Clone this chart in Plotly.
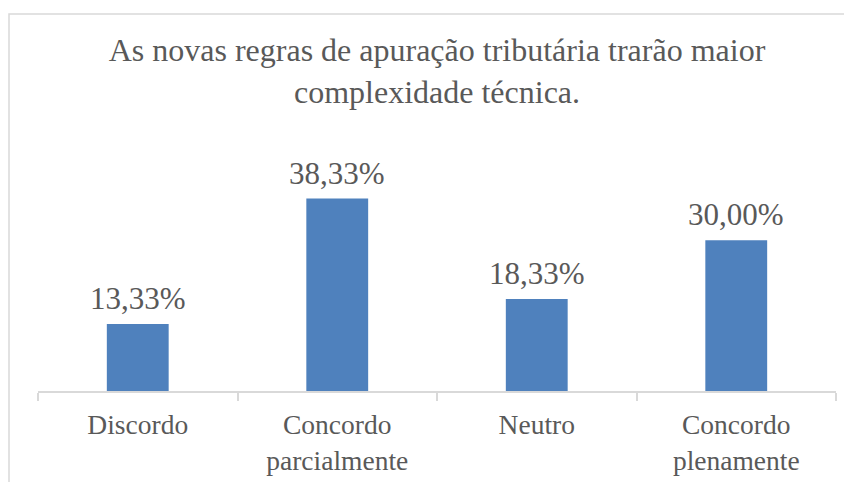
import plotly.graph_objects as go

categories = ["Discordo", "Concordo<br>parcialmente", "Neutro", "Concordo<br>plenamente"]
values = [13.33, 38.33, 18.33, 30.00]
labels = ["13,33%", "38,33%", "18,33%", "30,00%"]
title_text = "As novas regras de apuração tributária trarão maior<br>complexidade técnica."

OFF = 8  # body margin of the page
W, H = 852 - OFF, 482 - OFF
L = 38 - OFF
R = 852 - 836
B = 482 - 391
T = 165 - OFF
TXT = "#595959"
GRID = "#d9d9d9"
SERIF = "Liberation Serif, Times New Roman, serif"

fig = go.Figure()
fig.add_trace(go.Bar(x=categories, y=values, width=0.31,
                     marker=dict(color="#4f81bd", line=dict(width=0)),
                     hoverinfo="skip"))

for c, v, t in zip(categories, values, labels):
    fig.add_annotation(x=c, y=v, text=t, showarrow=False, yanchor="bottom",
                       yshift=6, font=dict(family=SERIF, size=31, color=TXT))

pw = W - L - R
ph = H - T - B
ybot = H - B
fig.add_shape(type="rect", xref="paper", yref="paper",
              x0=(9 - OFF - L) / pw, x1=(W + 20 - L) / pw,
              y0=-(H + 20 - ybot) / ph, y1=(ybot - (14 - OFF)) / ph,
              line=dict(color=GRID, width=1.5), fillcolor="rgba(0,0,0,0)", layer="below")

fig.update_layout(
    width=W, height=H,
    margin=dict(l=L, r=R, t=T, b=B, autoexpand=False),
    paper_bgcolor="white", plot_bgcolor="white",
    showlegend=False,
    title=dict(text=title_text, x=0.5, xanchor="center", xref="paper",
               y=1 - 53 / H, yref="container", yanchor="top",
               font=dict(family=SERIF, size=32, color=TXT)),
    xaxis=dict(showline=True, linecolor=GRID, linewidth=1.5, automargin=False,
               ticks="outside", tickson="boundaries", ticklen=8, tickcolor=GRID, tickwidth=1.5,
               tickfont=dict(family=SERIF, size=27.5, color=TXT),
               ticklabelstandoff=8, showgrid=False),
    yaxis=dict(range=[0, 45], visible=False, showgrid=False, zeroline=False, automargin=False),
)

fig.write_html("out.html")
